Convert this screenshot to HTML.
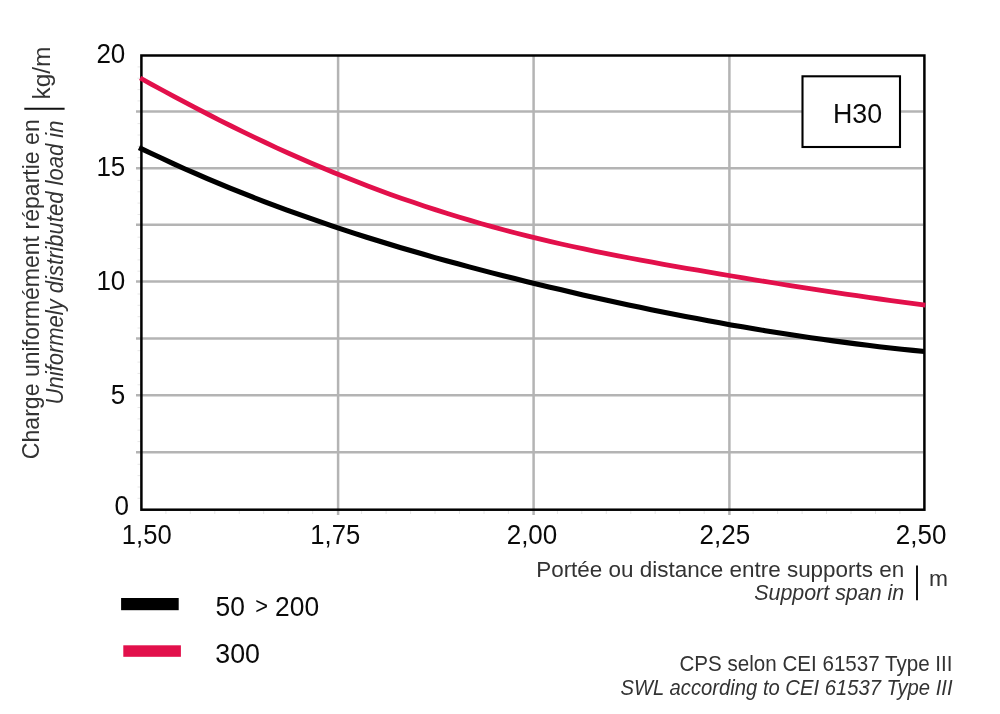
<!DOCTYPE html>
<html><head><meta charset="utf-8"><title>H30</title>
<style>
html,body{margin:0;padding:0;background:#fff;}
body{width:1000px;height:714px;overflow:hidden;font-family:"Liberation Sans",sans-serif;}
svg{display:block;will-change:transform;}
text{font-family:"Liberation Sans",sans-serif;}
</style></head><body>
<svg width="1000" height="714" viewBox="0 0 1000 714">
<rect width="1000" height="714" fill="#fff"/>
<g stroke="#e6e6e6" stroke-width="1" fill="none"><line x1="165.9" y1="509.7" x2="165.9" y2="514"/><line x1="190.3" y1="509.7" x2="190.3" y2="514"/><line x1="214.8" y1="509.7" x2="214.8" y2="514"/><line x1="239.3" y1="509.7" x2="239.3" y2="514"/><line x1="263.7" y1="509.7" x2="263.7" y2="514"/><line x1="288.2" y1="509.7" x2="288.2" y2="514"/><line x1="312.7" y1="509.7" x2="312.7" y2="514"/><line x1="361.6" y1="509.7" x2="361.6" y2="514"/><line x1="386.1" y1="509.7" x2="386.1" y2="514"/><line x1="410.6" y1="509.7" x2="410.6" y2="514"/><line x1="435.0" y1="509.7" x2="435.0" y2="514"/><line x1="459.5" y1="509.7" x2="459.5" y2="514"/><line x1="484.0" y1="509.7" x2="484.0" y2="514"/><line x1="508.4" y1="509.7" x2="508.4" y2="514"/><line x1="557.4" y1="509.7" x2="557.4" y2="514"/><line x1="581.8" y1="509.7" x2="581.8" y2="514"/><line x1="606.3" y1="509.7" x2="606.3" y2="514"/><line x1="630.8" y1="509.7" x2="630.8" y2="514"/><line x1="655.2" y1="509.7" x2="655.2" y2="514"/><line x1="679.7" y1="509.7" x2="679.7" y2="514"/><line x1="704.2" y1="509.7" x2="704.2" y2="514"/><line x1="753.1" y1="509.7" x2="753.1" y2="514"/><line x1="777.6" y1="509.7" x2="777.6" y2="514"/><line x1="802.1" y1="509.7" x2="802.1" y2="514"/><line x1="826.5" y1="509.7" x2="826.5" y2="514"/><line x1="851.0" y1="509.7" x2="851.0" y2="514"/><line x1="875.5" y1="509.7" x2="875.5" y2="514"/><line x1="899.9" y1="509.7" x2="899.9" y2="514"/><line x1="137.5" y1="66.9" x2="141.4" y2="66.9"/><line x1="137.5" y1="78.2" x2="141.4" y2="78.2"/><line x1="137.5" y1="89.6" x2="141.4" y2="89.6"/><line x1="137.5" y1="100.9" x2="141.4" y2="100.9"/><line x1="137.5" y1="123.6" x2="141.4" y2="123.6"/><line x1="137.5" y1="135.0" x2="141.4" y2="135.0"/><line x1="137.5" y1="146.3" x2="141.4" y2="146.3"/><line x1="137.5" y1="157.7" x2="141.4" y2="157.7"/><line x1="137.5" y1="180.4" x2="141.4" y2="180.4"/><line x1="137.5" y1="191.8" x2="141.4" y2="191.8"/><line x1="137.5" y1="203.1" x2="141.4" y2="203.1"/><line x1="137.5" y1="214.5" x2="141.4" y2="214.5"/><line x1="137.5" y1="237.2" x2="141.4" y2="237.2"/><line x1="137.5" y1="248.5" x2="141.4" y2="248.5"/><line x1="137.5" y1="259.9" x2="141.4" y2="259.9"/><line x1="137.5" y1="271.2" x2="141.4" y2="271.2"/><line x1="137.5" y1="294.0" x2="141.4" y2="294.0"/><line x1="137.5" y1="305.3" x2="141.4" y2="305.3"/><line x1="137.5" y1="316.7" x2="141.4" y2="316.7"/><line x1="137.5" y1="328.0" x2="141.4" y2="328.0"/><line x1="137.5" y1="350.7" x2="141.4" y2="350.7"/><line x1="137.5" y1="362.1" x2="141.4" y2="362.1"/><line x1="137.5" y1="373.4" x2="141.4" y2="373.4"/><line x1="137.5" y1="384.8" x2="141.4" y2="384.8"/><line x1="137.5" y1="407.5" x2="141.4" y2="407.5"/><line x1="137.5" y1="418.9" x2="141.4" y2="418.9"/><line x1="137.5" y1="430.2" x2="141.4" y2="430.2"/><line x1="137.5" y1="441.6" x2="141.4" y2="441.6"/><line x1="137.5" y1="464.3" x2="141.4" y2="464.3"/><line x1="137.5" y1="475.6" x2="141.4" y2="475.6"/><line x1="137.5" y1="487.0" x2="141.4" y2="487.0"/><line x1="137.5" y1="498.3" x2="141.4" y2="498.3"/></g>
<g stroke="#b4b4b4" stroke-width="2.5" fill="none"><line x1="136" y1="111.6" x2="923.0" y2="111.6"/><line x1="136" y1="168.3" x2="923.0" y2="168.3"/><line x1="136" y1="224.8" x2="923.0" y2="224.8"/><line x1="136" y1="281.4" x2="923.0" y2="281.4"/><line x1="136" y1="338.4" x2="923.0" y2="338.4"/><line x1="136" y1="395.2" x2="923.0" y2="395.2"/><line x1="136" y1="452.3" x2="923.0" y2="452.3"/><line x1="338.1" y1="55.5" x2="338.1" y2="515"/><line x1="533.6" y1="55.5" x2="533.6" y2="515"/><line x1="729.4" y1="55.5" x2="729.4" y2="515"/></g>
<rect x="141.4" y="55.5" width="783.0" height="454.2" fill="none" stroke="#000" stroke-width="2.5"/>
<path d="M140.2,78.0 L151.6,84.3 L163.0,90.5 L174.3,96.6 L185.7,102.7 L197.1,108.7 L208.5,114.5 L219.8,120.3 L231.2,126.0 L242.6,131.6 L254.0,137.1 L265.4,142.5 L276.7,147.8 L288.1,153.0 L299.5,158.0 L310.9,163.0 L322.3,167.8 L333.6,172.5 L345.0,177.1 L356.4,181.6 L367.8,186.0 L379.1,190.2 L390.5,194.4 L401.9,198.4 L413.3,202.3 L424.7,206.2 L436.0,209.9 L447.4,213.5 L458.8,217.0 L470.2,220.4 L481.5,223.7 L492.9,226.9 L504.3,230.0 L515.7,233.0 L527.1,235.9 L538.4,238.7 L549.8,241.4 L561.2,244.0 L572.6,246.5 L584.0,248.9 L595.3,251.3 L606.7,253.6 L618.1,255.8 L629.5,258.0 L640.8,260.1 L652.2,262.2 L663.6,264.3 L675.0,266.3 L686.4,268.3 L697.7,270.2 L709.1,272.2 L720.5,274.1 L731.9,276.0 L743.2,277.9 L754.6,279.8 L766.0,281.7 L777.4,283.5 L788.8,285.3 L800.1,287.1 L811.5,288.9 L822.9,290.7 L834.3,292.4 L845.7,294.1 L857.0,295.7 L868.4,297.4 L879.8,299.0 L891.2,300.6 L902.5,302.1 L913.9,303.6 L925.3,305.1" fill="none" stroke="#e2104b" stroke-width="4.8" stroke-linejoin="round"/>
<path d="M139.0,147.6 L150.4,153.0 L161.8,158.3 L173.2,163.6 L184.5,168.7 L195.9,173.7 L207.3,178.6 L218.7,183.4 L230.1,188.1 L241.5,192.7 L252.9,197.2 L264.2,201.6 L275.6,205.9 L287.0,210.1 L298.4,214.2 L309.8,218.2 L321.2,222.2 L332.6,226.1 L343.9,229.8 L355.3,233.6 L366.7,237.2 L378.1,240.8 L389.5,244.3 L400.9,247.7 L412.3,251.0 L423.6,254.3 L435.0,257.6 L446.4,260.7 L457.8,263.8 L469.2,266.9 L480.6,269.9 L492.0,272.9 L503.3,275.8 L514.7,278.6 L526.1,281.4 L537.5,284.2 L548.9,286.9 L560.3,289.6 L571.6,292.3 L583.0,294.9 L594.4,297.5 L605.8,300.0 L617.2,302.5 L628.6,304.9 L640.0,307.3 L651.3,309.7 L662.7,312.0 L674.1,314.2 L685.5,316.5 L696.9,318.6 L708.3,320.8 L719.7,322.8 L731.0,324.9 L742.4,326.8 L753.8,328.8 L765.2,330.7 L776.6,332.5 L788.0,334.3 L799.4,336.0 L810.7,337.7 L822.1,339.3 L833.5,340.9 L844.9,342.4 L856.3,343.9 L867.7,345.3 L879.1,346.7 L890.4,348.0 L901.8,349.2 L913.2,350.4 L924.6,351.5" fill="none" stroke="#000" stroke-width="5.1" stroke-linejoin="round"/>
<rect x="802.5" y="76.3" width="97.5" height="70.7" fill="#fff" stroke="#000" stroke-width="2.1"/>
<rect x="121.1" y="598" width="57.6" height="12.2" fill="#000"/>
<rect x="123.3" y="645.3" width="57.6" height="11.5" fill="#e2104b"/>
<line x1="917" y1="565.4" x2="917" y2="600.2" stroke="#111" stroke-width="2"/>
<line x1="24.3" y1="108.7" x2="64.6" y2="108.7" stroke="#111" stroke-width="2"/>
<text transform="translate(125.3,63.4) scale(0.9559,1)" font-size="27.2" text-anchor="end" fill="#0a0a0a">20</text><text transform="translate(125.3,175.8) scale(0.9559,1)" font-size="27.2" text-anchor="end" fill="#0a0a0a">15</text><text transform="translate(125.3,290.0) scale(0.9559,1)" font-size="27.2" text-anchor="end" fill="#0a0a0a">10</text><text transform="translate(125.3,403.5) scale(0.9559,1)" font-size="27.2" text-anchor="end" fill="#0a0a0a">5</text><text transform="translate(129.0,515.0) scale(0.9559,1)" font-size="27.2" text-anchor="end" fill="#0a0a0a">0</text><text transform="translate(121.8,543.8) scale(0.9412,1)" font-size="27.2" text-anchor="start" fill="#0a0a0a">1,50</text><text transform="translate(310.3,543.8) scale(0.9412,1)" font-size="27.2" text-anchor="start" fill="#0a0a0a">1,75</text><text transform="translate(506.7,543.8) scale(0.9559,1)" font-size="27.2" text-anchor="start" fill="#0a0a0a">2,00</text><text transform="translate(699.6,543.8) scale(0.9559,1)" font-size="27.2" text-anchor="start" fill="#0a0a0a">2,25</text><text transform="translate(895.8000000000001,543.8) scale(0.9559,1)" font-size="27.2" text-anchor="start" fill="#0a0a0a">2,50</text><text x="833" y="122.6" font-size="26.8" text-anchor="start" fill="#0a0a0a">H30</text><text transform="translate(215.5,616) scale(0.9496,1)" font-size="27.8" text-anchor="start" fill="#0a0a0a">50 <tspan font-size="23" dx="3.3" dy="-1.7">&gt;</tspan><tspan dx="-0.3" dy="1.7"> 200</tspan></text><text transform="translate(215.3,662.8) scale(0.9640,1)" font-size="27.8" text-anchor="start" fill="#0a0a0a">300</text><text x="904.2" y="576.8" font-size="21.9" text-anchor="end" fill="#333" textLength="368" lengthAdjust="spacingAndGlyphs">Portée ou distance entre supports en</text><text x="904.2" y="600.2" font-size="21.9" text-anchor="end" fill="#333" font-style="italic" textLength="150" lengthAdjust="spacingAndGlyphs">Support span in</text><text x="929" y="586.3" font-size="21.9" text-anchor="start" fill="#333" textLength="19" lengthAdjust="spacingAndGlyphs">m</text><text x="952.5" y="671" font-size="21.9" text-anchor="end" fill="#333" textLength="273" lengthAdjust="spacingAndGlyphs">CPS selon CEI 61537 Type III</text><text x="952.5" y="695" font-size="21.9" text-anchor="end" fill="#333" font-style="italic" textLength="332" lengthAdjust="spacingAndGlyphs">SWL according to CEI 61537 Type III</text><g transform="translate(39.4,459.2) rotate(-90)"><text x="0" y="0" font-size="24" text-anchor="start" fill="#333" textLength="340" lengthAdjust="spacingAndGlyphs">Charge uniformément répartie en</text></g><g transform="translate(62.5,120.5) rotate(-90)"><text x="0" y="0" font-size="23" text-anchor="end" fill="#333" font-style="italic" textLength="284" lengthAdjust="spacingAndGlyphs">Uniformely distributed load in</text></g><g transform="translate(50.3,99.5) rotate(-90)"><text x="0" y="0" font-size="23" text-anchor="start" fill="#333" textLength="53" lengthAdjust="spacingAndGlyphs">kg/m</text></g>
</svg>
</body></html>
